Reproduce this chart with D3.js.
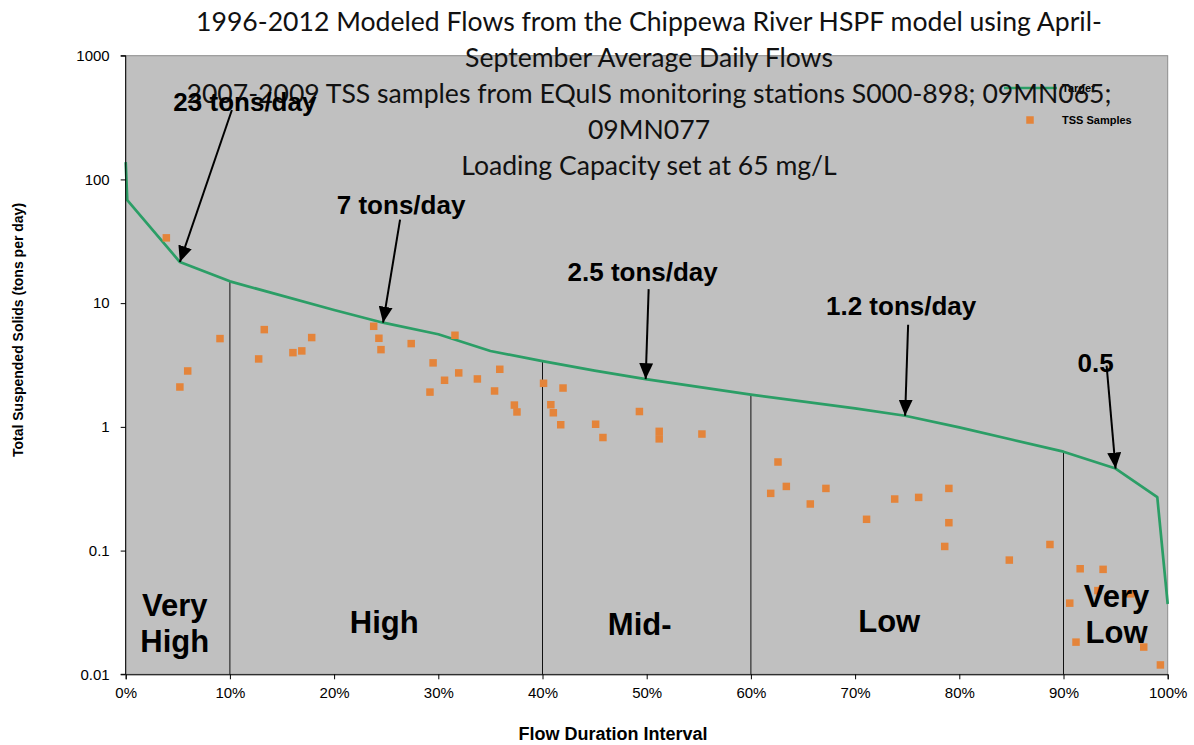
<!DOCTYPE html>
<html>
<head>
<meta charset="utf-8">
<script src="https://cdn.jsdelivr.net/npm/d3@7"></script>
<style>
body { margin: 0; background: #fff; }
svg { display: block; }
.tick text { font-family: "Liberation Sans", Arial, sans-serif; font-size: 15px; fill: #000; }
</style>
</head>
<body>
<div id="chart"></div>
<script>
// target load duration curve (flow interval as fraction, tons/day)
var targetX = [0, 0.0015, 0.052, 0.10, 0.20, 0.247, 0.30, 0.35, 0.40, 0.45, 0.499, 0.60, 0.70, 0.748, 0.80, 0.85, 0.90, 0.95, 0.99, 1.00];
var targetY = [138, 68, 21.5, 15, 8.8, 6.95, 5.6, 4.1, 3.4, 2.85, 2.43, 1.82, 1.41, 1.23, 0.99, 0.79, 0.63, 0.46, 0.27, 0.037];

// TSS samples 2007-2009
var sampleX = [0.039, 0.052, 0.0595, 0.0905, 0.1276, 0.133, 0.1605, 0.169, 0.1785, 0.238, 0.243, 0.245,
	0.274, 0.292, 0.295, 0.306, 0.316, 0.3196, 0.3375, 0.354, 0.359, 0.373, 0.3755, 0.401, 0.408, 0.4104,
	0.4175, 0.4197, 0.451, 0.458, 0.493, 0.512, 0.512, 0.553, 0.619, 0.626, 0.634, 0.657, 0.672, 0.711,
	0.738, 0.761, 0.786, 0.790, 0.790, 0.848, 0.887, 0.906, 0.912, 0.916, 0.933, 0.938, 0.964, 0.977, 0.993];
var sampleY = [33.7, 2.10, 2.83, 5.17, 3.54, 6.11, 3.98, 4.11, 5.27, 6.50, 5.2, 4.21,
	4.71, 1.91, 3.29, 2.38, 5.5, 2.73, 2.44, 1.95, 2.92, 1.50, 1.32, 2.25, 1.51, 1.30,
	1.04, 2.06, 1.05, 0.82, 1.33, 0.92, 0.80, 0.875, 0.29, 0.52, 0.33, 0.238, 0.318, 0.179,
	0.261, 0.269, 0.108, 0.318, 0.168, 0.0838, 0.112, 0.0376, 0.0182, 0.0713, 0.0475, 0.0705, 0.0447, 0.0166, 0.0119];

var zoneBounds = [0, 0.1, 0.4, 0.6, 0.9, 1.0];
var zoneNames = [["Very", "High"], ["High"], ["Mid-"], ["Low"], ["Very", "Low"]];

var annoLabels = ["23 tons/day", "7 tons/day", "2.5 tons/day", "1.2 tons/day", "0.5"];
var annoX = [0.052, 0.247, 0.499, 0.748, 0.95];
var annoY = [21.5, 6.95, 2.43, 1.23, 0.46];

var yTicks = [0.01, 0.1, 1, 10, 100, 1000];
var yTickLabels = ["0.01", "0.1", "1", "10", "100", "1000"];
var xTicks = [0, 0.1, 0.2, 0.3, 0.4, 0.5, 0.6, 0.7, 0.8, 0.9, 1.0];
var xTickLabels = ["0%", "10%", "20%", "30%", "40%", "50%", "60%", "70%", "80%", "90%", "100%"];

var titleLines = [
	"1996-2012 Modeled Flows from the Chippewa River HSPF model using April-",
	"September Average Daily Flows",
	"2007-2009 TSS samples from EQuIS monitoring stations S000-898; 09MN065;",
	"09MN077",
	"Loading Capacity set at 65 mg/L"
];

var width = 1194,
	height = 745;
var margin = {top: 55.7, right: 26.3, bottom: 70.7, left: 125.7};
var arial = '"Liberation Sans", Arial, sans-serif';

var svg = d3.select("#chart").append("svg")
	.attr("width", width)
	.attr("height", height);

var x = d3.scaleLinear()
	.domain([0, 1])
	.range([margin.left, width - margin.right]);

var y = d3.scaleLog()
	.domain([0.01, 1000])
	.range([height - margin.bottom, margin.top]);

var target = targetX.map(function(v, i){ return [v, targetY[i]]; });
var samples = sampleX.map(function(v, i){ return [v, sampleY[i]]; });

// value of the target curve at a given x (log interpolation between read points)
function targetAt(v){
	var i = d3.bisectLeft(targetX, v);
	if (targetX[i] === v) return targetY[i];
	var t = (v - targetX[i-1]) / (targetX[i] - targetX[i-1]);
	return Math.pow(10, Math.log10(targetY[i-1]) + t * (Math.log10(targetY[i]) - Math.log10(targetY[i-1])));
}

// plot area
svg.append("rect")
	.attr("x", x(0))
	.attr("y", y(1000))
	.attr("width", x(1) - x(0))
	.attr("height", y(0.01) - y(1000))
	.attr("fill", "#c0c0c0")
	.attr("stroke", "#8c8c8c")
	.attr("stroke-width", 1);

// zone dividers
svg.append("g").selectAll("line")
	.data(zoneBounds.slice(1, -1))
	.enter()
	.append("line")
	.attr("x1", function(d){ return x(d); })
	.attr("x2", function(d){ return x(d); })
	.attr("y1", function(d){ return y(targetAt(d)); })
	.attr("y2", y(0.01))
	.attr("stroke", "#111")
	.attr("stroke-width", 1);

var line = d3.line()
	.x(function(d){ return x(d[0]); })
	.y(function(d){ return y(d[1]); });

svg.append("path")
	.datum(target)
	.attr("d", line)
	.attr("fill", "none")
	.attr("stroke", "#2b9e66")
	.attr("stroke-width", 2.7)
	.attr("stroke-linejoin", "round");

var ms = 7.5;
svg.append("g").selectAll("rect")
	.data(samples)
	.enter()
	.append("rect")
	.attr("x", function(d){ return x(d[0]) - ms/2; })
	.attr("y", function(d){ return y(d[1]) - ms/2; })
	.attr("width", ms)
	.attr("height", ms)
	.attr("fill", "#e4843a");

// axes
var yAxis = d3.axisLeft(y)
	.tickValues(yTicks)
	.tickFormat(function(d, i){ return yTickLabels[i]; })
	.tickSize(5)
	.tickPadding(11);

var xAxis = d3.axisBottom(x)
	.tickValues(xTicks)
	.tickFormat(function(d, i){ return xTickLabels[i]; })
	.tickSize(5)
	.tickPadding(8);

var gy = svg.append("g")
	.attr("transform", "translate(" + x(0) + ",0)")
	.call(yAxis);
gy.select(".domain").attr("d", "M-5," + y(1000) + "H0V" + y(0.01) + "H-5");

var gx = svg.append("g")
	.attr("transform", "translate(0," + y(0.01) + ")")
	.call(xAxis);

svg.selectAll(".domain").attr("stroke", "#000");
svg.selectAll(".tick line").attr("stroke", "#000");

// axis titles
svg.append("text")
	.attr("transform", "translate(23,330) rotate(-90)")
	.attr("text-anchor", "middle")
	.style("font-family", arial)
	.style("font-weight", "bold")
	.style("font-size", "14px")
	.text("Total Suspended Solids (tons per day)");

svg.append("text")
	.attr("x", 613)
	.attr("y", 740)
	.attr("text-anchor", "middle")
	.style("font-family", arial)
	.style("font-weight", "bold")
	.style("font-size", "18px")
	.text("Flow Duration Interval");

// legend
var legend = svg.append("g").attr("transform", "translate(1004,88)");
legend.append("line")
	.attr("x1", 0).attr("x2", 53)
	.attr("stroke", "#2b9e66")
	.attr("stroke-width", 2.7);
legend.append("text")
	.attr("x", 58).attr("y", 4)
	.style("font-family", arial).style("font-weight", "bold").style("font-size", "11px")
	.text("Target");
legend.append("rect")
	.attr("x", 26 - ms/2).attr("y", 32 - ms/2)
	.attr("width", ms).attr("height", ms)
	.attr("fill", "#e4843a");
legend.append("text")
	.attr("x", 58).attr("y", 36)
	.style("font-family", arial).style("font-weight", "bold").style("font-size", "11px")
	.text("TSS Samples");

// title
svg.append("g").selectAll("text")
	.data(titleLines)
	.enter()
	.append("text")
	.attr("x", 649)
	.attr("y", function(d, i){ return 31 + i * 36; })
	.attr("text-anchor", "middle")
	.style("font-family", "Lato, sans-serif")
	.style("font-size", "26.6px")
	.style("fill", "#111")
	.text(function(d){ return d; });

// arrows to the target curve
svg.append("defs").append("marker")
	.attr("id", "arrowhead")
	.attr("markerUnits", "userSpaceOnUse")
	.attr("viewBox", "0 0 16 14")
	.attr("markerWidth", 16)
	.attr("markerHeight", 14)
	.attr("refX", 16)
	.attr("refY", 7)
	.attr("orient", "auto")
	.append("path")
	.attr("d", "M0,0L16,7L0,14Z")
	.attr("fill", "#000");

var startOff = [[52, -152], [17, -103], [3, -90], [3, -91], [-9, -103]];
var textOff = [[65, -151], [18, -109], [-3, -98], [-4, -101], [-20, -97]];

var anno = svg.append("g").selectAll("g")
	.data(annoLabels)
	.enter()
	.append("g")
	.attr("transform", function(d, i){ return "translate(" + x(annoX[i]) + "," + y(annoY[i]) + ")"; });

anno.append("line")
	.attr("x1", function(d, i){ return startOff[i][0]; })
	.attr("y1", function(d, i){ return startOff[i][1]; })
	.attr("x2", 0)
	.attr("y2", 0)
	.attr("stroke", "#000")
	.attr("stroke-width", 2)
	.attr("marker-end", "url(#arrowhead)");

anno.append("text")
	.attr("x", function(d, i){ return textOff[i][0]; })
	.attr("y", function(d, i){ return textOff[i][1]; })
	.attr("text-anchor", "middle")
	.style("font-family", arial)
	.style("font-weight", "bold")
	.style("font-size", "26px")
	.text(function(d){ return d; });

// flow zone labels
var zoneDx = [-3, -2, -7, -18, 1];
var zoneY0 = [616, 633, 635, 632, 607];

var zones = svg.append("g").selectAll("text")
	.data(zoneNames)
	.enter()
	.append("text")
	.attr("text-anchor", "middle")
	.style("font-family", arial)
	.style("font-weight", "bold")
	.style("font-size", "31px")
	.attr("transform", function(d, i){
		var cx = (x(zoneBounds[i]) + x(zoneBounds[i+1])) / 2 + zoneDx[i];
		return "translate(" + cx + "," + zoneY0[i] + ")";
	});

zones.selectAll("tspan")
	.data(function(d){ return d; })
	.enter()
	.append("tspan")
	.attr("x", 0)
	.attr("dy", function(d, i){ return i === 0 ? 0 : 36; })
	.text(function(d){ return d; });
</script>
</body>
</html>
